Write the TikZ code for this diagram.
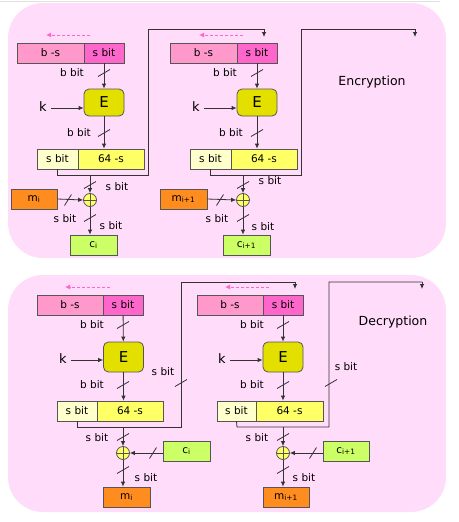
\documentclass[tikz,border=0pt]{standalone}
\usepackage{fontspec}
\setmainfont{DejaVu Sans}
\usetikzlibrary{arrows.meta}
\definecolor{panel}{HTML}{FFDCFA}
\definecolor{bscol}{HTML}{FF99CC}
\definecolor{sbcol}{HTML}{FF66CC}
\definecolor{ecol}{HTML}{E3E000}
\definecolor{creamcol}{HTML}{FFFFCC}
\definecolor{ylwcol}{HTML}{FFFF66}
\definecolor{orgcol}{HTML}{FF8C1F}
\definecolor{grncol}{HTML}{CCFF66}
\definecolor{bordcol}{HTML}{555555}
\definecolor{linecol}{HTML}{333333}
\tikzset{
  box/.style={draw=bordcol, line width=0.8pt, minimum height=20pt, inner sep=0pt, font=\fontsize{10.5}{12}\selectfont},
  bsbox/.style={box, fill=bscol},
  sbbox/.style={box, fill=sbcol},
  creambox/.style={box, fill=creamcol},
  ylwbox/.style={box, fill=ylwcol},
  orgbox/.style={box, fill=orgcol, minimum width=47pt},
  grnbox/.style={box, fill=grncol, minimum width=47pt},
  ebox/.style={draw=bordcol, line width=0.8pt, fill=ecol, rounded corners=5pt, minimum width=40pt, inner sep=0pt, font=\fontsize{15}{16}\selectfont},
  xorst/.style={circle, draw=bordcol, line width=0.8pt, fill=ylwcol, minimum size=13pt, inner sep=0pt,
    path picture={\draw[bordcol, line width=0.7pt] (path picture bounding box.north) -- (path picture bounding box.south) (path picture bounding box.west) -- (path picture bounding box.east);}},
  lab/.style={font=\fontsize{10.5}{12}\selectfont, inner sep=0pt},
  klab/.style={font=\fontsize{13}{14}\selectfont, inner sep=0pt},
  title/.style={font=\fontsize{12.5}{14}\selectfont, inner sep=0pt},
  conn/.style={draw=linecol, line width=0.8pt},
  arr/.style={conn, -{Latex[length=5pt,width=4.5pt]}},
  shiftarr/.style={draw=sbcol, line width=0.9pt, dashed, dash pattern=on 3pt off 2pt, -{Latex[length=5pt,width=5pt]}},
  vslash/.pic={\draw[linecol, line width=0.8pt] (-6,3.5) -- (6,-3.5);},
  hslash/.pic={\draw[linecol, line width=0.8pt] (-3.5,5.5) -- (3.5,-5.5);}
}
\begin{document}
\begin{tikzpicture}[x=1pt,y=-1pt]
\useasboundingbox (0,0) rectangle (458,522);
\draw[black!12, line width=1pt] (0,1) -- (440,1);
% panels
\fill[panel, rounded corners=35pt] (8,3) rectangle (446,258);
\fill[panel, rounded corners=35pt] (8,275) rectangle (446,512);

% ===================== ENCRYPTION =====================
\node[title] (enc) at (372,82) {Encryption};
% --- unit 1 ---
\node[bsbox, minimum width=67pt] (bs1) at (50.5,53) {b -s};
\node[sbbox, minimum width=40pt] (sb1) at (104,53) {s bit};
\coordinate (sh1a) at (90,35); \coordinate (sh1b) at (46,35);
\draw[shiftarr] (sh1a) -- (sh1b);
\node[ebox, minimum height=27pt] (E1) at (104,102.5) {E};
\node[klab] (k1) at (43,107) {k};
\node[creambox, minimum width=41pt] (lo1) at (57.5,159) {s bit};
\node[ylwbox, minimum width=66pt] (hi1) at (111,159) {64 -s};
\node[xorst] (x1) at (90,200) {};
\node[orgbox, minimum width=46pt] (m1) at (34,199) {m\textsubscript{i}};
\node[grnbox] (c1) at (93.5,245) {c\textsubscript{i}};
\draw[arr] (sb1) -- (E1);
\pic at (104,73) {vslash};
\node[lab] (l1a) at (72,73) {b bit};
\draw[arr] (k1.east) ++(4,1) coordinate (k1s) -- (k1s -| E1.west);
\draw[arr] (E1) -- (E1 |- hi1.north);
\pic at (104,133) {vslash};
\node[lab] (l1b) at (79,133) {b bit};
\coordinate (f1a) at (57.5,175); \coordinate (f1b) at (148,175);
\coordinate (f1c) at (148,29); \coordinate (f1d) at (264,29); \coordinate (f1e) at (264,37);
\draw[conn] (lo1.south) -- (f1a) -- (f1b) -- (f1c) -- (f1d);
\draw[arr] (f1d) -- (f1e);
\coordinate (j1) at (90,175);
\draw[arr] (j1) -- (x1.north);
\pic at (90,185) {vslash};
\node[lab] (l1c) at (117,187) {s bit};
\draw[arr] (m1.east) -- (x1.west);
\pic at (68,200) {hslash};
\draw[arr] (x1.south) -- (x1 |- c1.north);
\pic at (90,218) {vslash};
\node[lab] (l1d) at (65,219) {s bit};
\node[lab] (l1e) at (111,226) {s bit};

% --- unit 2 ---
\node[bsbox, minimum width=67pt] (bs2) at (203.5,53) {b -s};
\node[sbbox, minimum width=40pt] (sb2) at (257,53) {s bit};
\coordinate (sh2a) at (243,35); \coordinate (sh2b) at (199,35);
\draw[shiftarr] (sh2a) -- (sh2b);
\node[ebox, minimum height=27pt] (E2) at (257,102.5) {E};
\node[klab] (k2) at (196,107) {k};
\node[creambox, minimum width=41pt] (lo2) at (210.5,159) {s bit};
\node[ylwbox, minimum width=66pt] (hi2) at (264,159) {64 -s};
\node[xorst] (x2) at (243,200) {};
\node[orgbox, minimum width=47pt] (m2) at (183.5,199) {m\textsubscript{i+1}};
\node[grnbox] (c2) at (246.5,245) {c\textsubscript{i+1}};
\draw[arr] (sb2) -- (E2);
\pic at (257,73) {vslash};
\node[lab] (l2a) at (225,73) {b bit};
\draw[arr] (k2.east) ++(4,1) coordinate (k2s) -- (k2s -| E2.west);
\draw[arr] (E2) -- (E2 |- hi2.north);
\pic at (257,133) {vslash};
\node[lab] (l2b) at (231,133) {b bit};
\coordinate (f2a) at (210.5,175); \coordinate (f2b) at (301,175);
\coordinate (f2c) at (301,29); \coordinate (f2d) at (415,29); \coordinate (f2e) at (415,37);
\draw[conn] (lo2.south) -- (f2a) -- (f2b) -- (f2c) -- (f2d);
\draw[arr] (f2d) -- (f2e);
\coordinate (j2) at (243,175);
\draw[arr] (j2) -- (x2.north);
\pic at (243,185) {vslash};
\node[lab] (l2c) at (270,181) {s bit};
\draw[arr] (m2.east) -- (x2.west);
\pic at (220,200) {hslash};
\draw[arr] (x2.south) -- (x2 |- c2.north);
\pic at (243,218) {vslash};
\node[lab] (l2d) at (217,219) {s bit};
\node[lab] (l2e) at (263,227) {s bit};

% ===================== DECRYPTION =====================
\node[title] (dec) at (393,322) {Decryption};
% --- unit 3 ---
\node[bsbox, minimum width=66pt] (bs3) at (70,305) {b -s};
\node[sbbox, minimum width=40pt] (sb3) at (123,305) {s bit};
\coordinate (sh3a) at (110,287); \coordinate (sh3b) at (65,287);
\draw[shiftarr] (sh3a) -- (sh3b);
\node[ebox, minimum height=30pt] (E3) at (123.5,357) {E};
\node[klab] (k3) at (63,359) {k};
\node[creambox, minimum width=40pt] (lo3) at (77,411) {s bit};
\node[ylwbox, minimum width=66pt] (hi3) at (130,411) {64 -s};
\node[xorst] (x3) at (123,453) {};
\node[grnbox] (c3) at (186.5,451) {c\textsubscript{i}};
\node[orgbox] (m3) at (126.5,497) {m\textsubscript{i}};
\draw[arr] (sb3) -- (E3);
\pic at (123,325) {vslash};
\node[lab] (l3a) at (92,325) {b bit};
\draw[arr] (k3.east) ++(4,1) coordinate (k3s) -- (k3s -| E3.west);
\draw[arr] (E3) -- (E3 |- hi3.north);
\pic at (123,385) {vslash};
\node[lab] (l3b) at (92,385) {b bit};
\coordinate (f3a) at (77,427); \coordinate (f3b) at (181,427);
\coordinate (f3c) at (181,282); \coordinate (f3d) at (295,282); \coordinate (f3e) at (295,289);
\draw[conn] (lo3.south) -- (f3a) -- (f3b) -- (f3c) -- (f3d);
\draw[arr] (f3d) -- (f3e);
\pic at (181,383) {vslash};
\node[lab] (l3f) at (163,372) {s bit};
\coordinate (j3) at (123,427);
\draw[arr] (j3) -- (x3.north);
\pic at (123,437) {vslash};
\node[lab] (l3c) at (97,438) {s bit};
\draw[arr] (x3 -| c3.west) -- (x3.east);
\pic at (153,453) {hslash};
\draw[arr] (x3.south) -- (x3 |- m3.north);
\pic at (123,470) {vslash};
\node[lab] (l3e) at (146,478) {s bit};

% --- unit 4 ---
\node[bsbox, minimum width=66pt] (bs4) at (230,305) {b -s};
\node[sbbox, minimum width=40pt] (sb4) at (283,305) {s bit};
\coordinate (sh4a) at (269,287); \coordinate (sh4b) at (225,287);
\draw[shiftarr] (sh4a) -- (sh4b);
\node[ebox, minimum height=30pt] (E4) at (283,357) {E};
\node[klab] (k4) at (222,359) {k};
\node[creambox, minimum width=39pt] (lo4) at (236.5,411) {s bit};
\node[ylwbox, minimum width=67pt] (hi4) at (289.5,411) {64 -s};
\node[xorst] (x4) at (283,453) {};
\node[grnbox, minimum width=46pt] (c4) at (346,451) {c\textsubscript{i+1}};
\node[orgbox, minimum width=46pt] (m4) at (286,497) {m\textsubscript{i+1}};
\draw[arr] (sb4) -- (E4);
\pic at (283,325) {vslash};
\node[lab] (l4a) at (252,325) {b bit};
\draw[arr] (k4.east) ++(4,1) coordinate (k4s) -- (k4s -| E4.west);
\draw[arr] (E4) -- (E4 |- hi4.north);
\pic at (283,385) {vslash};
\node[lab] (l4b) at (252,385) {b bit};
\coordinate (f4a) at (237,427); \coordinate (f4b) at (329,427);
\coordinate (f4c) at (329,282); \coordinate (f4d) at (422,282); \coordinate (f4e) at (422,289);
\draw[conn] (lo4.south) -- (f4a) -- (f4b) -- (f4c) -- (f4d);
\draw[arr] (f4d) -- (f4e);
\pic at (331,383) {vslash};
\node[lab] (l4f) at (346,367) {s bit};
\coordinate (j4) at (283,427);
\draw[arr] (j4) -- (x4.north);
\pic at (283,437) {vslash};
\node[lab] (l4c) at (257,438) {s bit};
\draw[arr] (x4 -| c4.west) -- (x4.east);
\pic at (313,453) {hslash};
\draw[arr] (x4.south) -- (x4 |- m4.north);
\pic at (283,470) {vslash};
\node[lab] (l4e) at (304,478) {s bit};
\end{tikzpicture}
\end{document}
